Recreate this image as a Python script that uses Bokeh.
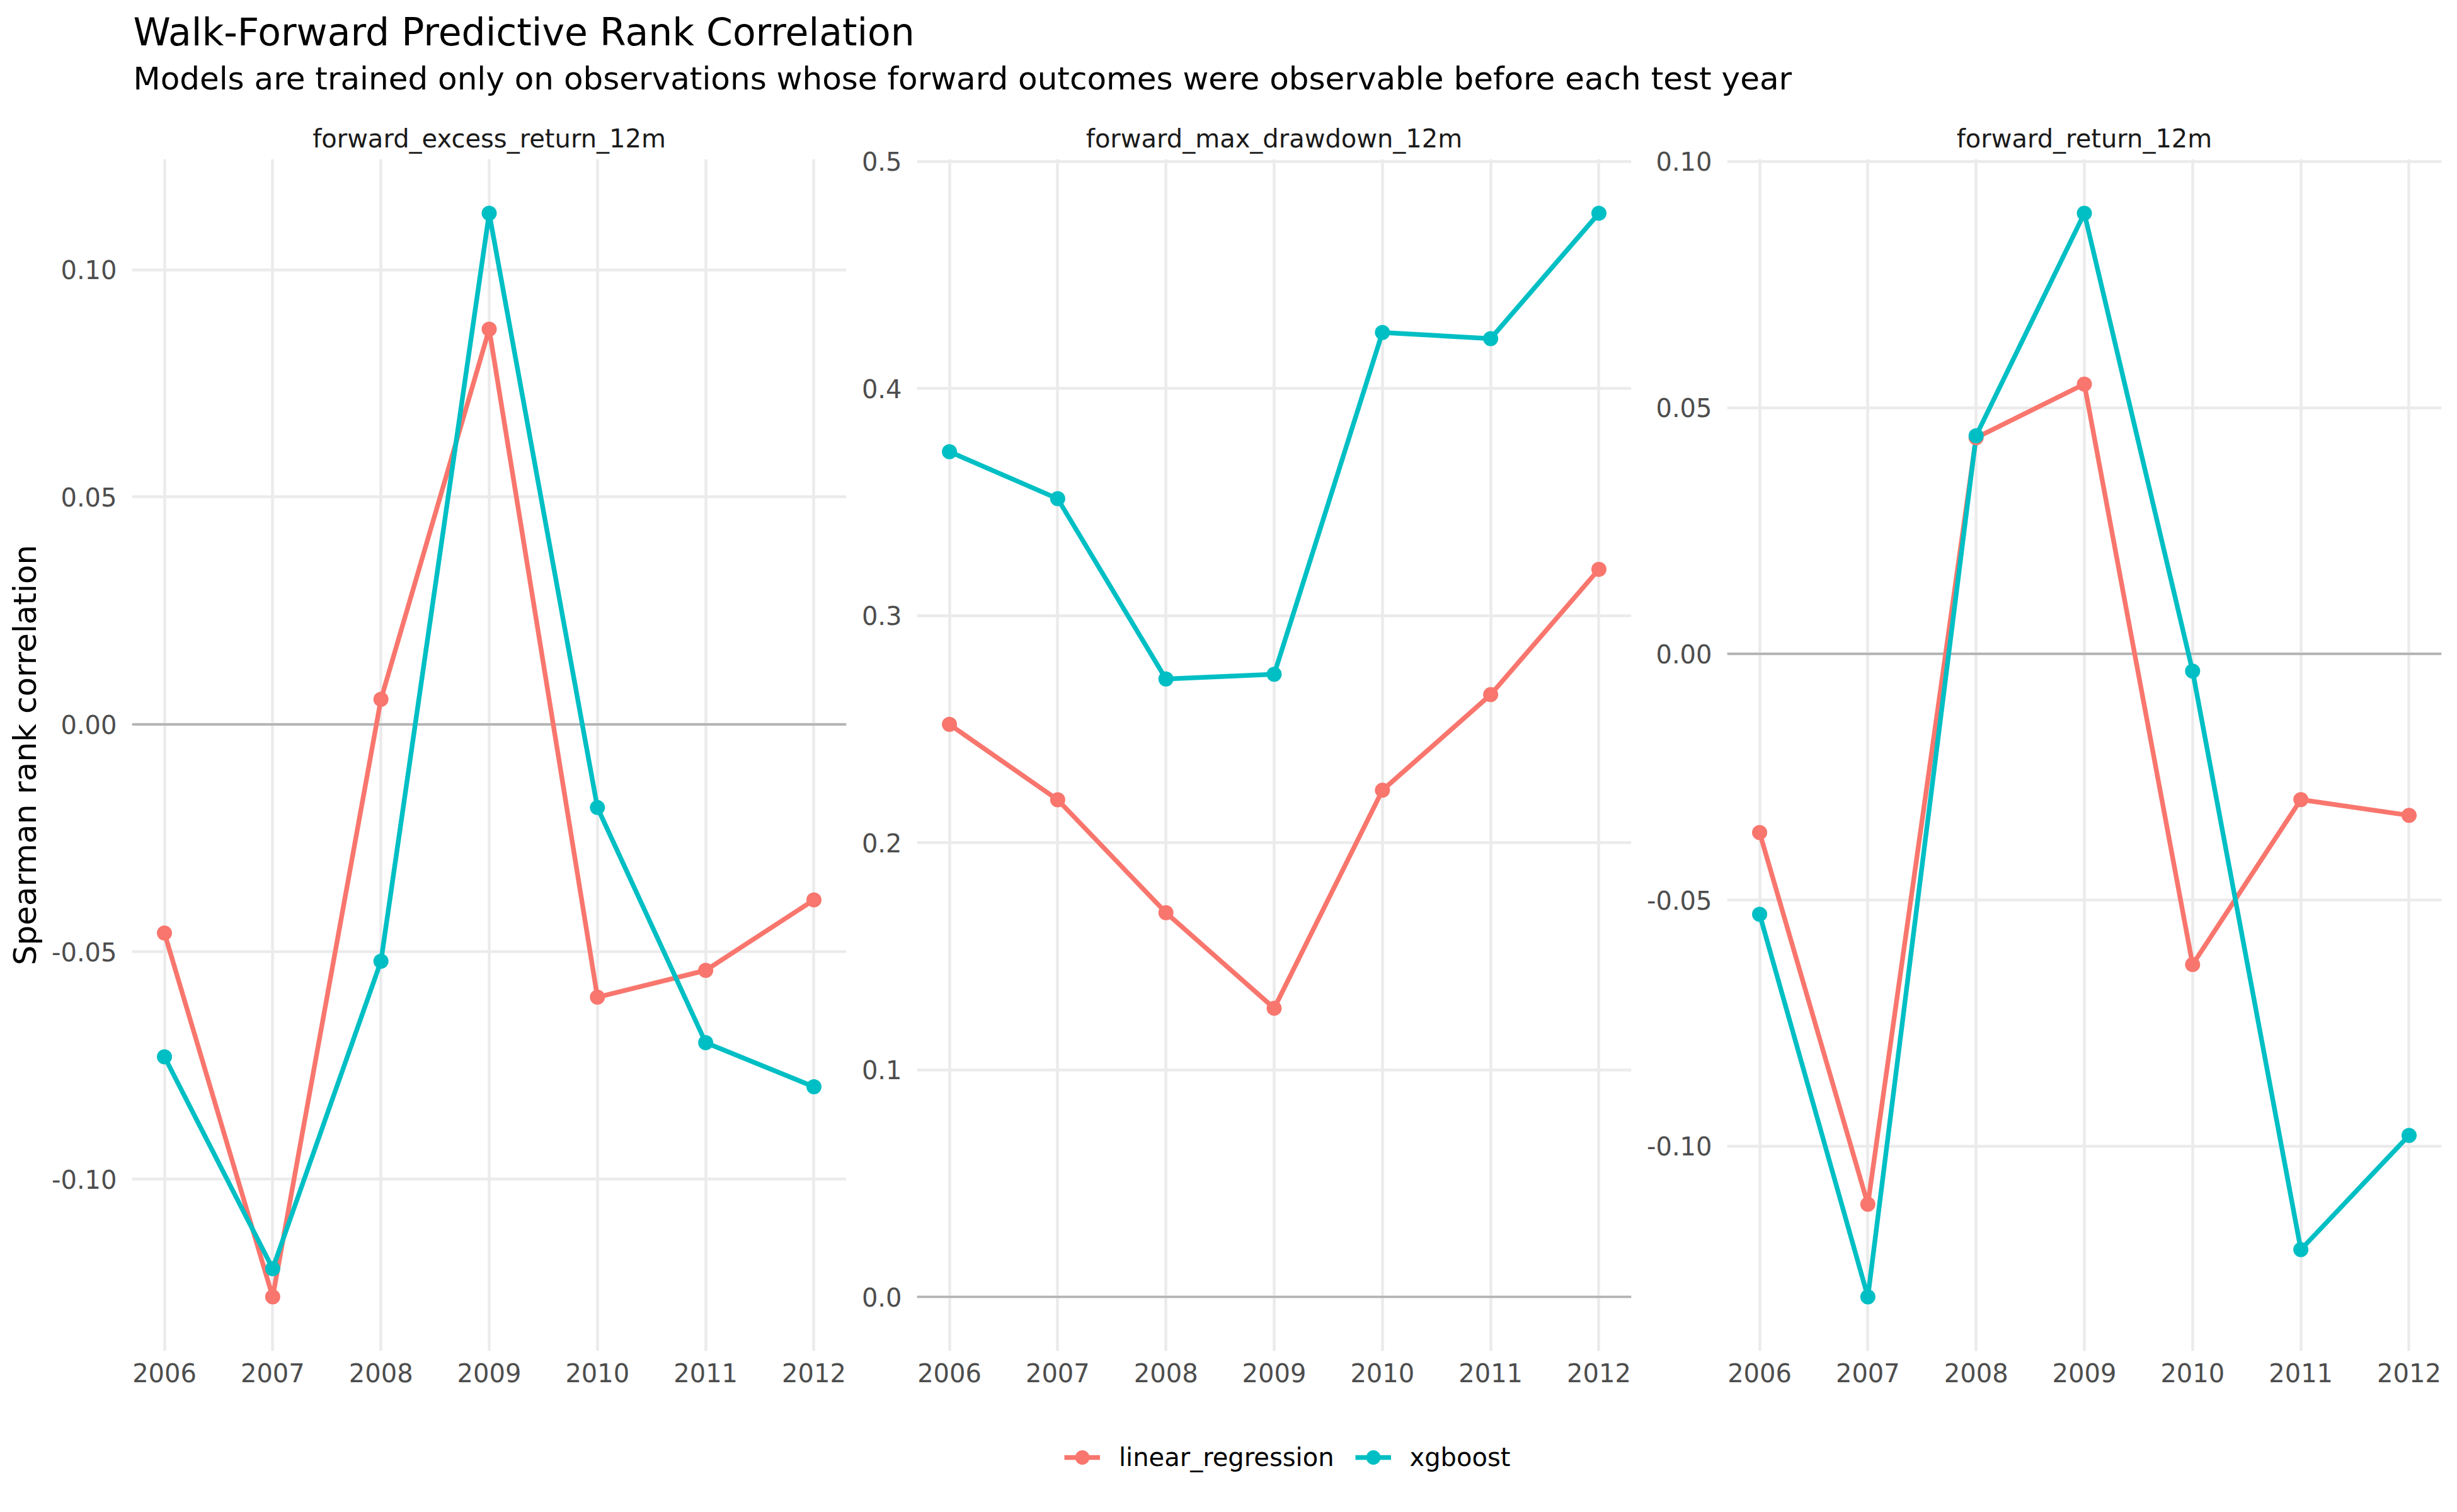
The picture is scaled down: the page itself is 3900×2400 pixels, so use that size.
from bokeh.plotting import figure
from bokeh.models import (Range1d, FixedTicker, PrintfTickFormatter, Span, Label,
                          Legend, LegendItem, ColumnDataSource)
from bokeh.layouts import column, row
from bokeh.embed import file_html
from bokeh.resources import INLINE

# ---------------- data ----------------
years = [2006, 2007, 2008, 2009, 2010, 2011, 2012]
facets = ["forward_excess_return_12m", "forward_max_drawdown_12m", "forward_return_12m"]
models = ["linear_regression", "xgboost"]

lr_excess = [-0.0459, -0.1259, 0.0055, 0.0869, -0.0600, -0.0541, -0.0386]
xgb_excess = [-0.0731, -0.1197, -0.0521, 0.1124, -0.0183, -0.0700, -0.0797]
lr_mdd = [0.2521, 0.2189, 0.1692, 0.1271, 0.2231, 0.2652, 0.3204]
xgb_mdd = [0.3722, 0.3515, 0.2721, 0.2742, 0.4247, 0.4220, 0.4772]
lr_ret = [-0.0363, -0.1118, 0.0439, 0.0548, -0.0631, -0.0296, -0.0328]
xgb_ret = [-0.0529, -0.1306, 0.0443, 0.0895, -0.0035, -0.1210, -0.0978]

yticks_excess = [-0.10, -0.05, 0.00, 0.05, 0.10]
yticks_mdd = [0.0, 0.1, 0.2, 0.3, 0.4, 0.5]
yticks_ret = [-0.10, -0.05, 0.00, 0.05, 0.10]

title_text = "Walk-Forward Predictive Rank Correlation"
subtitle_text = "Models are trained only on observations whose forward outcomes were observable before each test year"
y_title = "Spearman rank correlation"

# ---------------- style ----------------
FONT = "DejaVu Sans"
COLORS = {"linear_regression": "#F8766D", "xgboost": "#00BFC4"}
GRID = "#EBEBEB"
TICK_COLOR = "#4D4D4D"
LINE_W = 7.5
PT_SIZE = 24
SMALL = "40px"
MID = "50px"
BIG = "60px"

TOTAL_W = 3884
TOTAL_H = 2384
HEADER_H = 170
ROW_H = 2070
LEG_H = TOTAL_H - HEADER_H - ROW_H
FRAME_W = 1134
TOP_B = 82
BOTTOM_B = ROW_H - TOP_B - 1892

panel_specs = [
    (facets[0], lr_excess, xgb_excess, yticks_excess, "%.2f", 209, 12),
    (facets[1], lr_mdd, xgb_mdd, yticks_mdd, "%.1f", 100, 18),
    (facets[2], lr_ret, xgb_ret, yticks_ret, "%.2f", 134, 9),
]

x_pad = 0.05 * (max(years) - min(years))

panels = []
for i, (name, lr, xg, yt, fmt, bl, br) in enumerate(panel_specs):
    vals = lr + xg + [0.0]
    lo, hi = min(vals), max(vals)
    pad = 0.05 * (hi - lo)
    p = figure(width=bl + FRAME_W + br, height=ROW_H,
               x_range=Range1d(min(years) - x_pad, max(years) + x_pad),
               y_range=Range1d(lo - pad, hi + pad),
               output_backend="svg", toolbar_location=None,
               min_border_left=bl, min_border_right=br,
               min_border_top=TOP_B, min_border_bottom=BOTTOM_B)
    p.outline_line_color = None
    p.background_fill_color = "white"
    p.border_fill_color = "white"

    p.title.text = name
    p.title.align = "center"
    p.title.text_font = FONT
    p.title.text_font_size = SMALL
    p.title.text_font_style = "normal"
    p.title.text_color = "#1A1A1A"
    p.title.standoff = 19

    p.xaxis.ticker = FixedTicker(ticks=years)
    p.yaxis.ticker = FixedTicker(ticks=yt)
    p.yaxis.formatter = PrintfTickFormatter(format=fmt)
    p.xgrid.ticker = FixedTicker(ticks=years)
    p.ygrid.ticker = FixedTicker(ticks=yt)
    for ax in (p.xaxis, p.yaxis):
        ax.axis_line_color = None
        ax.major_tick_line_color = None
        ax.minor_tick_line_color = None
        ax.major_tick_out = 0
        ax.major_tick_in = 0
        ax.minor_tick_out = 0
        ax.major_label_text_font = FONT
        ax.major_label_text_font_size = SMALL
        ax.major_label_text_color = TICK_COLOR
    p.xaxis.major_label_standoff = 19
    p.yaxis.major_label_standoff = 24
    for g in (p.xgrid, p.ygrid):
        g.grid_line_color = GRID
        g.grid_line_width = 4.5
        g.minor_grid_line_color = None

    if i == 0:
        p.yaxis.axis_label = y_title
        p.yaxis.axis_label_text_font = FONT
        p.yaxis.axis_label_text_font_size = MID
        p.yaxis.axis_label_text_font_style = "normal"
        p.yaxis.axis_label_text_color = "black"
        p.yaxis.axis_label_standoff = 10

    zero = Span(location=0, dimension="width", line_color="#B3B3B3", line_width=3.7,
                level="underlay")
    p.add_layout(zero)

    series = {"linear_regression": lr, "xgboost": xg}
    for m in models:
        p.line(years, series[m], line_color=COLORS[m], line_width=LINE_W)
    for m in models:
        p.scatter(years, series[m], size=PT_SIZE, fill_color=COLORS[m],
                  line_color=COLORS[m], line_width=0)
    panels.append(p)

# ---------------- header ----------------
header = figure(width=TOTAL_W, height=HEADER_H, x_range=Range1d(0, 1), y_range=Range1d(0, 1),
                x_axis_type=None, y_axis_type=None, output_backend="svg",
                toolbar_location=None, min_border=0)
header.title = None
header.outline_line_color = None
header.add_layout(Label(x=211, y=HEADER_H - 50, x_units="screen", y_units="screen",
                        text=title_text, text_font=FONT, text_font_size=BIG,
                        text_baseline="middle", text_align="left", text_color="black"))
header.add_layout(Label(x=211, y=HEADER_H - 124, x_units="screen", y_units="screen",
                        text=subtitle_text, text_font=FONT, text_font_size=MID,
                        text_baseline="middle", text_align="left", text_color="black"))

# ---------------- legend strip ----------------
legfig = figure(width=TOTAL_W, height=LEG_H, x_range=Range1d(0, 1), y_range=Range1d(0, 1),
                x_axis_type=None, y_axis_type=None, output_backend="svg",
                toolbar_location=None, min_border=0)
legfig.title = None
legfig.outline_line_color = None
items = []
for m in models:
    # key-only renderers: a single undefined point, so nothing is drawn in the strip
    src = ColumnDataSource(dict(x=[float("nan")], y=[float("nan")]))
    rl = legfig.line("x", "y", source=src, line_color=COLORS[m], line_width=LINE_W)
    rs = legfig.scatter("x", "y", source=src, size=PT_SIZE - 1, fill_color=COLORS[m],
                        line_color=COLORS[m], line_width=0)
    items.append(LegendItem(label=m, renderers=[rl, rs]))
KEY_H = 58
legend = Legend(items=items, orientation="horizontal", location=(1689, LEG_H - 73 - KEY_H // 2),
                label_text_font=FONT, label_text_font_size=SMALL, label_text_color="black",
                glyph_width=57, glyph_height=KEY_H, label_height=KEY_H, label_standoff=30,
                spacing=33, padding=0, margin=0, border_line_color=None,
                background_fill_alpha=0)
legfig.add_layout(legend, "center")

layout = column(header, row(*panels), legfig)
open("out.html", "w").write(file_html(layout, INLINE))
